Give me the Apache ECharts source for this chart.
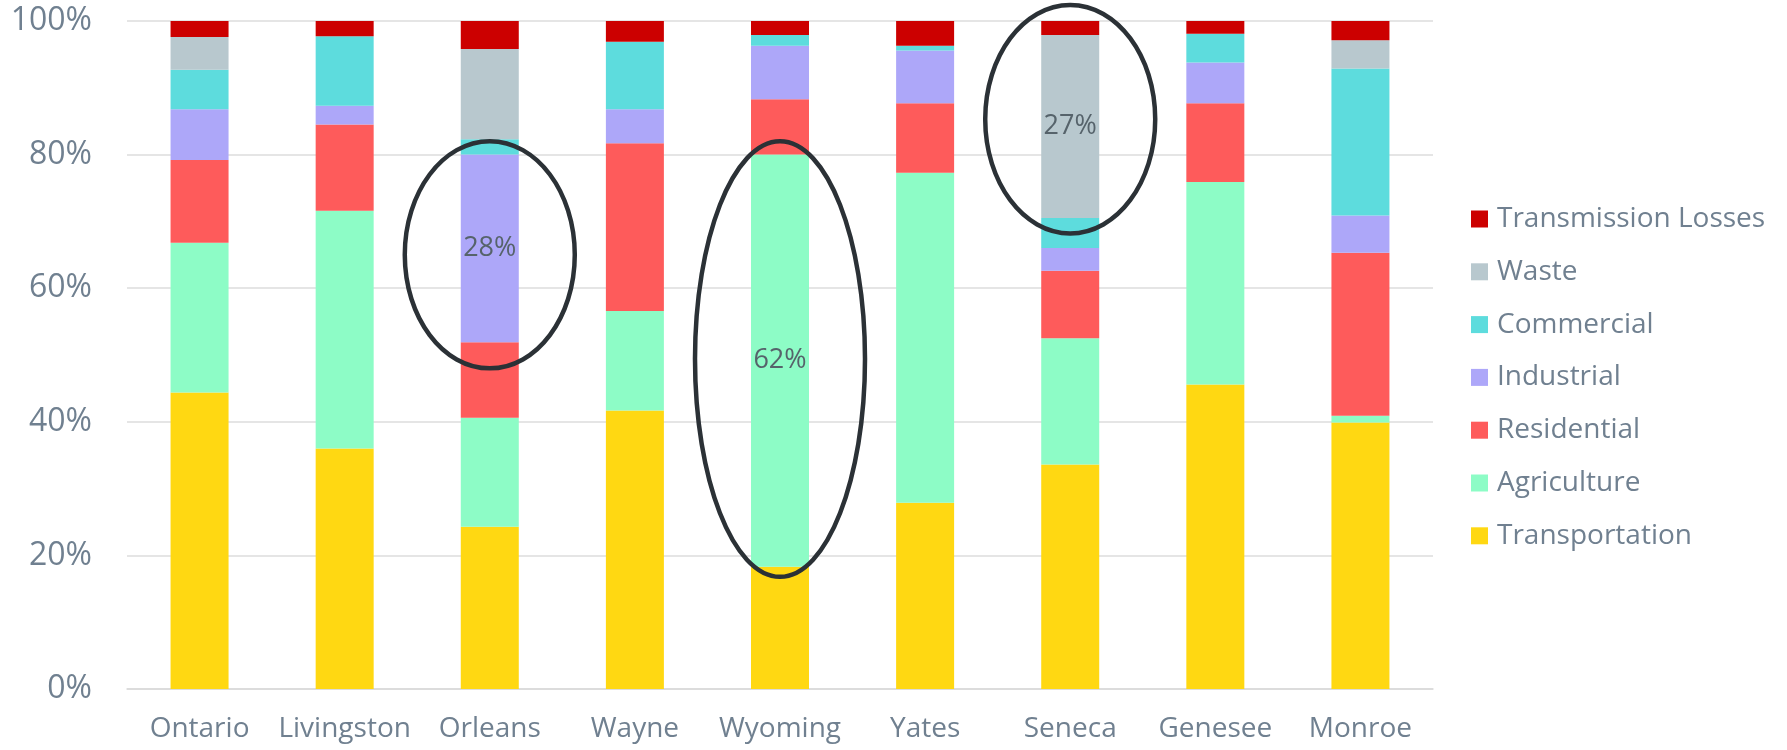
<!DOCTYPE html>
<html>
<head>
<meta charset="utf-8">
<script src="https://cdn.jsdelivr.net/npm/echarts@6/dist/echarts.min.js"></script>
<style>
  html, body { margin: 0; padding: 0; background: #fff; }
  #chart { width: 1787px; height: 750px; }
</style>
</head>
<body>
<div id="chart"></div>
<script>
  // counties on the x axis
  var counties = ['Ontario', 'Livingston', 'Orleans', 'Wayne', 'Wyoming', 'Yates', 'Seneca', 'Genesee', 'Monroe']

  // share of emissions per sector, percent
  var transportation = [44.4, 36.0, 24.3, 41.7, 18.3, 27.9, 33.6, 45.6, 39.9]
  var agriculture    = [22.4, 35.6, 16.3, 14.9, 61.7, 49.4, 18.9, 30.3, 1.0]
  var residential    = [12.4, 12.9, 11.3, 25.1, 8.3, 10.4, 10.1, 11.8, 24.4]
  var industrial     = [7.6, 2.8, 28.1, 5.1, 8.0, 7.9, 3.4, 6.1, 5.6]
  var commercial     = [5.9, 10.4, 2.3, 10.1, 1.6, 0.7, 4.5, 4.3, 22.0]
  var waste          = [4.9, 0, 13.5, 0, 0, 0, 27.4, 0, 4.2]
  var transLosses    = [2.4, 2.3, 4.2, 3.1, 2.1, 3.7, 2.1, 1.9, 2.9]

  var yTicks = ['0%', '20%', '40%', '60%', '80%', '100%']

  // segments that carry a value label and a circle round them
  var callouts = [
    {series: 'Industrial', county: 'Orleans'},
    {series: 'Agriculture', county: 'Wyoming'},
    {series: 'Waste', county: 'Seneca'},
  ]

  var sectors = [
    {name: 'Transportation', data: transportation, color: '#FFD812'},
    {name: 'Agriculture', data: agriculture, color: '#8DFCC6'},
    {name: 'Residential', data: residential, color: '#FE5B5B'},
    {name: 'Industrial', data: industrial, color: '#ADA7F9'},
    {name: 'Commercial', data: commercial, color: '#5DDCDD'},
    {name: 'Waste', data: waste, color: '#B8C8CE'},
    {name: 'Transmission Losses', data: transLosses, color: '#CC0000'},
  ]

  var fontFamily = '"Open Sans", sans-serif'
  var labelColor = '#708090'

  function getSeries () {
    var series = []
    for (var i = 0; i < sectors.length; i++) {
      var s = sectors[i]
      var data = s.data.map(function (v, j) {
        var hit = callouts.some(function (c) {
          return c.series === s.name && c.county === counties[j]
        })
        if (!hit) return v
        return {
          value: v,
          label: {
            show: true,
            position: 'inside',
            formatter: function (p) { return Math.round(p.value) + '%' },
            color: '#56636b',
            fontSize: 27,
            fontFamily: fontFamily,
          },
        }
      })
      series.push({
        name: s.name,
        type: 'bar',
        stack: 'total',
        barWidth: 58,
        itemStyle: {color: s.color},
        data: data,
      })
    }
    return series
  }

  var chart = echarts.init(document.getElementById('chart'))
  var option = {
    animation: false,
    textStyle: {fontFamily: fontFamily},
    grid: {left: 127, right: 354, top: 21, bottom: 61},
    legend: {
      orient: 'vertical',
      left: 1466,
      top: 200,
      itemWidth: 17,
      itemHeight: 17,
      itemGap: 24.8,
      icon: 'rect',
      data: sectors.map(function (s) { return s.name }).reverse(),
      textStyle: {color: labelColor, fontSize: 28, fontFamily: fontFamily, padding: [0, 0, 0, 4]},
    },
    xAxis: {
      type: 'category',
      data: counties,
      axisLine: {lineStyle: {color: '#d9d9d9', width: 1.5}},
      axisTick: {show: false},
      axisLabel: {color: labelColor, fontSize: 28, margin: 26, interval: 0, fontFamily: fontFamily},
    },
    yAxis: {
      type: 'value',
      min: 0,
      max: 100,
      interval: 20,
      axisLine: {show: false},
      axisTick: {show: false},
      splitLine: {lineStyle: {color: '#dcdcdc', width: 1.5}},
      axisLabel: {
        color: labelColor,
        fontSize: 32,
        margin: 35,
        fontFamily: fontFamily,
        formatter: function (v) { return yTicks[v / 20] },
      },
    },
    series: getSeries(),
  }
  chart.setOption(option)

  // circles drawn round the called-out segments, sized in axis units
  var rings = [
    {county: 'Orleans', mid: 65.0, halfSpan: 17.0, rx: 85},
    {county: 'Wyoming', mid: 49.4, halfSpan: 32.6, rx: 85},
    {county: 'Seneca', mid: 85.3, halfSpan: 17.1, rx: 85},
  ]
  var graphics = rings.map(function (r) {
    var c = chart.convertToPixel({gridIndex: 0}, [r.county, r.mid])
    var top = chart.convertToPixel({gridIndex: 0}, [r.county, r.mid + r.halfSpan])
    return {
      type: 'ellipse',
      shape: {cx: c[0], cy: c[1], rx: r.rx, ry: c[1] - top[1]},
      style: {fill: null, stroke: '#2b3136', lineWidth: 4.5},
      z: 100,
    }
  })
  chart.setOption({graphic: graphics})
</script>
</body>
</html>
